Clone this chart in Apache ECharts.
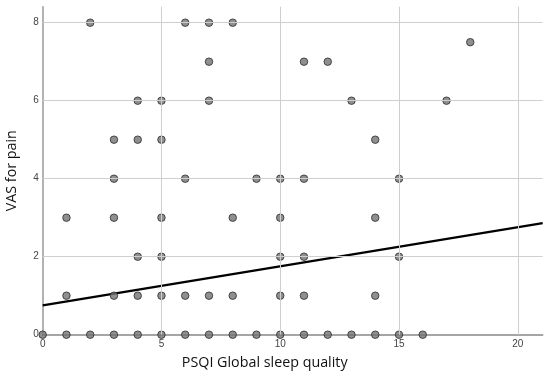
<!DOCTYPE html>
<html>
<head>
<meta charset="utf-8">
<script src="https://cdn.jsdelivr.net/npm/echarts@6/dist/echarts.min.js"></script>
<style>html,body{margin:0;padding:0;background:#fff}#c{width:550px;height:385px}</style>
</head>
<body>
<div id="c"></div>
<script>
// Scatter points: PSQI global score (x) and VAS for pain (y)
const psqi = [
  2, 6, 7, 8,
  18,
  7, 11, 12,
  4, 5, 7, 13, 17,
  3, 4, 5, 14,
  3, 6, 9, 10, 11, 15,
  1, 3, 5, 8, 10, 14,
  4, 5, 10, 11, 15,
  1, 3, 4, 5, 6, 7, 8, 10, 11, 14,
  0, 1, 2, 3, 4, 5, 6, 7, 8, 9, 10, 11, 12, 13, 14, 15, 16
];
const vas = [
  8, 8, 8, 8,
  7.5,
  7, 7, 7,
  6, 6, 6, 6, 6,
  5, 5, 5, 5,
  4, 4, 4, 4, 4, 4,
  3, 3, 3, 3, 3, 3,
  2, 2, 2, 2, 2,
  1, 1, 1, 1, 1, 1, 1, 1, 1, 1,
  0, 0, 0, 0, 0, 0, 0, 0, 0, 0, 0, 0, 0, 0, 0, 0, 0
];
// Fit line end points
const fitX = [0, 21.05];
const fitY = [0.75, 2.86];
// Tick positions
const xTicks = [0, 5, 10, 15, 20];
const yTicks = [0, 2, 4, 6, 8];

const points = psqi.map((x, i) => [x, vas[i]]);
const fit = fitX.map((x, i) => [x, fitY[i]]);

const gridColor = '#cfcfcf';
const chart = echarts.init(document.getElementById('c'));
chart.setOption({
  animation: false,
  grid: {left: 42.7, right: 7.3, top: 6.7, bottom: 50.3, containLabel: false, outerBoundsMode: 'none'},
  xAxis: {
    type: 'value', min: 0, max: 21.05, interval: 5,
    name: 'PSQI Global sleep quality', nameLocation: 'middle', nameGap: 21,
    nameTextStyle: {fontFamily: 'Open Sans', fontSize: 14.3, color: '#111', padding: [0, 56, 0, 0]},
    axisLine: {show: true, onZero: false, lineStyle: {color: '#888', width: 1.5}},
    axisTick: {show: false},
    splitLine: {show: false},
    axisLabel: {showMaxLabel: false, color: '#444', fontSize: 10, fontFamily: 'Liberation Sans', margin: 5}
  },
  yAxis: {
    type: 'value', min: 0, max: 8.41, interval: 2,
    name: 'VAS for pain', nameLocation: 'middle', nameGap: 24,
    nameTextStyle: {fontFamily: 'Open Sans', fontSize: 14.3, color: '#111'},
    axisLine: {show: true, onZero: false, lineStyle: {color: '#999', width: 1.5}},
    axisTick: {show: false},
    splitLine: {show: false},
    axisLabel: {showMaxLabel: false, color: '#444', fontSize: 10, fontFamily: 'Liberation Sans', margin: 4}
  },
  series: [
    {
      type: 'line', data: [], silent: true,
      markLine: {
        silent: true, symbol: 'none', label: {show: false},
        lineStyle: {color: gridColor, width: 1, type: 'solid'},
        data: xTicks.filter(v => v > 0).map(v => ({xAxis: v}))
          .concat(yTicks.filter(v => v > 0).map(v => ({yAxis: v})))
      }
    },
    {
      type: 'line', data: fit, showSymbol: false, silent: true,
      lineStyle: {color: '#000', width: 2.2}, z: 3
    },
    {
      type: 'scatter', data: points, symbolSize: 7.5, z: 4,
      itemStyle: {color: '#737373', borderColor: '#2b2b2b', borderWidth: 1}
    }
  ]
});
</script>
</body>
</html>
